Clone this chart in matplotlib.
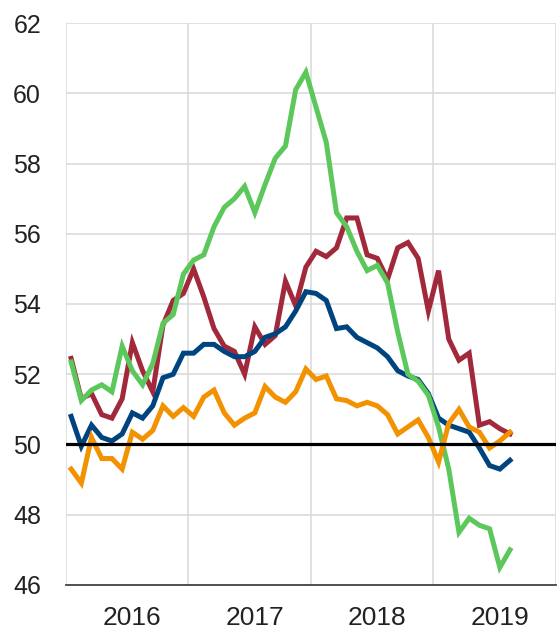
import numpy as np
import matplotlib.pyplot as plt

plt.rcParams['font.family'] = ['Liberation Sans', 'DejaVu Sans']

# Monthly index values, Jan 2016 to Aug 2019
months = np.arange(44)
year_labels = ['2016', '2017', '2018', '2019']

red_series = [52.45, 51.3, 51.45, 50.85, 50.75, 51.3, 52.9, 52.1, 51.5, 53.4, 54.1, 54.3,
              55.0, 54.2, 53.3, 52.8, 52.65, 52.0, 53.35, 52.85, 53.1, 54.65, 53.95, 55.05,
              55.5, 55.35, 55.6, 56.45, 56.45, 55.4, 55.3, 54.7, 55.6, 55.75, 55.3, 53.8,
              54.95, 53.0, 52.4, 52.6, 50.55, 50.65, 50.45, 50.3]
blue_series = [50.8, 49.95, 50.55, 50.2, 50.1, 50.3, 50.9, 50.75, 51.1, 51.9, 52.0, 52.6,
               52.6, 52.85, 52.85, 52.65, 52.5, 52.5, 52.65, 53.05, 53.15, 53.35, 53.8, 54.35,
               54.3, 54.1, 53.3, 53.35, 53.05, 52.9, 52.75, 52.5, 52.1, 51.95, 51.85, 51.45,
               50.75, 50.55, 50.45, 50.35, 49.9, 49.4, 49.3, 49.55]
green_series = [52.35, 51.25, 51.55, 51.7, 51.5, 52.8, 52.1, 51.7, 52.3, 53.45, 53.7, 54.85,
                55.25, 55.4, 56.2, 56.75, 57.0, 57.35, 56.6, 57.4, 58.15, 58.5, 60.1, 60.6,
                59.6, 58.6, 56.6, 56.2, 55.5, 54.95, 55.1, 54.6, 53.2, 52.0, 51.8, 51.4,
                50.5, 49.3, 47.5, 47.9, 47.7, 47.6, 46.5, 47.0]
orange_series = [49.3, 48.9, 50.2, 49.6, 49.6, 49.3, 50.35, 50.15, 50.4, 51.1, 50.8, 51.05,
                 50.8, 51.35, 51.55, 50.9, 50.55, 50.75, 50.9, 51.65, 51.35, 51.2, 51.5, 52.15,
                 51.85, 51.95, 51.3, 51.25, 51.1, 51.2, 51.1, 50.85, 50.3, 50.5, 50.7, 50.2,
                 49.5, 50.6, 51.0, 50.5, 50.35, 49.9, 50.1, 50.35]

fig = plt.figure(figsize=(5.58, 6.29), dpi=100)
ax = fig.add_axes([0.1183, 0.07, 0.878, 0.8934])

x = months + 0.5
ax.plot(x, red_series, color='#a2283b', lw=3.6, solid_joinstyle='miter', zorder=3)
ax.plot(x, blue_series, color='#00447f', lw=3.6, solid_joinstyle='miter', zorder=4)
ax.plot(x, green_series, color='#5cc85b', lw=3.6, solid_joinstyle='miter', zorder=5)
ax.plot(x, orange_series, color='#f39200', lw=3.6, solid_joinstyle='miter', zorder=6)
ax.axhline(50, color='black', lw=2.3, zorder=7)

ax.set_xlim(0, 48)
ax.set_ylim(46, 62)
ax.set_yticks(np.arange(46, 63, 2))
ax.set_xticks([0, 12, 24, 36, 48])
ax.set_xticklabels([])
# year labels sit under the middle of each year
ax.set_xticks([6.5, 18.5, 30.5, 42.5], minor=True)
ax.set_xticklabels(year_labels, minor=True)

ax.grid(True, color='#d9d9d9', lw=1.1, zorder=0)
ax.set_axisbelow(True)
for side in ['top', 'right', 'left']:
    ax.spines[side].set_visible(False)
ax.spines['bottom'].set_color('#444444')
ax.spines['bottom'].set_linewidth(1.3)

ax.tick_params(axis='both', which='both', length=0, colors='#222222')
ax.tick_params(axis='y', labelsize=18, pad=18)
ax.tick_params(axis='x', which='minor', labelsize=19, pad=15)

fig.savefig('out.png', dpi=100)
